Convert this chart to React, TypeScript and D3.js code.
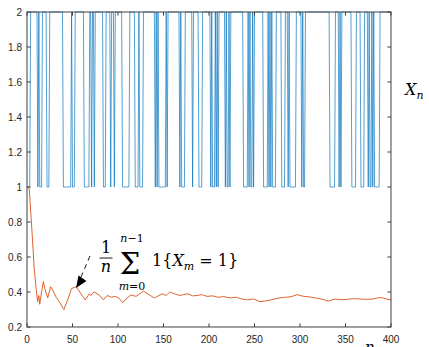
import React from "react";
import * as d3 from "d3";

// Markov chain X_n as runs of [value, length], n = 0..400
const blueRuns: [number, number][] = [
  [1,4],[2,8],[1,1],[2,1],[1,3],[2,5],[1,3],[2,15],[1,9],[2,1],[1,3],[2,10],
  [1,6],[2,2],[1,1],[2,2],[1,1],[2,9],[1,3],[2,5],[1,1],[2,3],[1,1],[2,8],
  [1,8],[2,6],[1,4],[2,1],[1,4],[2,13],[1,1],[2,1],[1,1],[2,1],[1,8],[2,1],
  [1,1],[2,13],[1,1],[2,1],[1,4],[2,8],[1,1],[2,6],[1,4],[2,9],[1,1],[2,1],
  [1,3],[2,1],[1,1],[2,1],[1,1],[2,7],[1,1],[2,1],[1,2],[2,1],[1,1],[2,14],
  [1,5],[2,1],[1,1],[2,1],[1,2],[2,1],[1,1],[2,10],[1,5],[2,1],[1,1],[2,1],
  [1,1],[2,1],[1,4],[2,6],[1,4],[2,3],[1,1],[2,1],[1,7],[2,6],[1,1],[2,1],
  [1,2],[2,27],[1,6],[2,4],[1,1],[2,1],[1,1],[2,11],[1,5],[2,5],[1,4],[2,4],
  [1,1],[2,1],[1,2],[2,1],[1,1],[2,1],[1,6],[2,13]
];

// running average of 1{X_m = 1}
const avgN = [1, 2.5, 5.8, 8, 10.6, 11.7, 13, 14, 16, 18, 19.5, 22.7, 26, 28, 32, 36, 40.5,
  45, 49, 54, 58, 64, 68.5, 70, 73.6, 77, 80, 84, 88, 93, 97, 101, 105, 110, 114, 120, 124, 128,
  134, 140, 145, 149, 153, 157, 162, 168, 172, 177, 182, 187, 192, 198, 204, 210, 216, 223, 230,
  236, 242, 249, 256, 261, 267, 272, 278, 284, 289, 293, 297, 303, 310, 318, 325, 331, 335, 339,
  345, 352, 358, 366, 373, 380, 385, 390, 395, 400];
const avgV = [1.0, 0.99, 0.72, 0.53, 0.39, 0.345, 0.38, 0.33, 0.40, 0.46, 0.42, 0.366, 0.43, 0.415, 0.37, 0.34, 0.30,
  0.36, 0.42, 0.43, 0.40, 0.355, 0.39, 0.38, 0.40, 0.39, 0.38, 0.355, 0.38, 0.37, 0.375, 0.365, 0.34, 0.365, 0.383, 0.375, 0.39, 0.405,
  0.385, 0.366, 0.38, 0.389, 0.38, 0.40, 0.39, 0.38, 0.385, 0.39, 0.378, 0.38, 0.385, 0.375, 0.378, 0.37, 0.374, 0.366, 0.37,
  0.36, 0.355, 0.36, 0.345, 0.348, 0.354, 0.36, 0.367, 0.37, 0.372, 0.378, 0.385, 0.376, 0.372, 0.365, 0.358, 0.348, 0.355, 0.36,
  0.356, 0.358, 0.362, 0.36, 0.358, 0.36, 0.366, 0.368, 0.36, 0.355];

const xTicks = [0, 50, 100, 150, 200, 250, 300, 350, 400];
const yTicks = [0.2, 0.4, 0.6, 0.8, 1, 1.2, 1.4, 1.6, 1.8, 2];

export default function App() {
  const W = 429, H = 347;
  const x = d3.scaleLinear().domain([0, 400]).range([27, 391]);
  const y = d3.scaleLinear().domain([0.2, 2]).range([327, 12]);

  const blue: [number, number][] = [];
  let n = 0;
  for (const [v, len] of blueRuns) {
    for (let k = 0; k < len; k++) { blue.push([n, v]); n++; }
  }
  const line = d3.line<[number, number]>().x(d => x(d[0])).y(d => y(d[1]));
  const orange: [number, number][] = avgN.map((t, i) => [t, avgV[i]]);

  const axisColor = "#404040";
  const tickLen = 3.6;
  const tickFont = "'Liberation Sans', Arial, sans-serif";
  const math = "'DejaVu Serif', 'Liberation Serif', serif";

  return (
    <svg width={W} height={H} style={{ position: "absolute", left: 0, top: 0, background: "#fff" }}>
      <path d={line(blue) || ""} fill="none" stroke="#0072BD" strokeWidth={0.9} strokeOpacity={0.75} />
      <path d={line(orange) || ""} fill="none" stroke="#D95319" strokeWidth={1} strokeOpacity={0.9} />

      {/* box */}
      <rect x={27} y={12} width={364} height={315} fill="none" stroke={axisColor} strokeWidth={1} />
      {xTicks.map(t => (
        <g key={"x" + t}>
          <line x1={x(t)} x2={x(t)} y1={327} y2={327 - tickLen} stroke={axisColor} />
          <line x1={x(t)} x2={x(t)} y1={12} y2={12 + tickLen} stroke={axisColor} />
          <text x={x(t)} y={343} textAnchor="middle" fontSize={10} fontFamily={tickFont} fill="#262626">{t}</text>
        </g>
      ))}
      {yTicks.map(t => (
        <g key={"y" + t}>
          <line x1={27} x2={27 + tickLen} y1={y(t)} y2={y(t)} stroke={axisColor} />
          <line x1={391} x2={391 - tickLen} y1={y(t)} y2={y(t)} stroke={axisColor} />
          <text x={22} y={y(t) + 3.5} textAnchor="end" fontSize={10} fontFamily={tickFont} fill="#262626">{String(t)}</text>
        </g>
      ))}

      {/* X_n label */}
      <text x={405} y={95} fontFamily={math} fontSize={16} fontStyle="italic" fill="#000">
        X<tspan fontSize={11} dy={4}>n</tspan>
      </text>
      {/* n x-label (cut by the bottom edge, as in the reference) */}
      <text x={365} y={352} fontFamily={math} fontSize={15} fontStyle="italic" fill="#000">n</text>

      {/* annotation formula */}
      <g fontFamily={math} fill="#000">
        <text x={106} y={253} textAnchor="middle" fontSize={16}>1</text>
        <line x1={99.5} x2={112.5} y1={258} y2={258} stroke="#000" strokeWidth={0.9} />
        <text x={106} y={272} textAnchor="middle" fontSize={16} fontStyle="italic">n</text>
        <text x={130} y={274} textAnchor="middle" fontSize={29}>Σ</text>
        <text x={132} y={242} textAnchor="middle" fontSize={11}><tspan fontStyle="italic">n</tspan>−1</text>
        <text x={132} y={290} textAnchor="middle" fontSize={11}><tspan fontStyle="italic">m</tspan>=0</text>
        <text x={152} y={266} fontSize={16}>
          1{"{"}<tspan fontStyle="italic">X</tspan><tspan fontSize={11} dy={4} fontStyle="italic">m</tspan><tspan dy={-4}> = 1</tspan>{"}"}
        </text>
      </g>
      {/* arrow */}
      <line x1={90} y1={256} x2={81} y2={277} stroke="#000" strokeWidth={0.9} strokeDasharray="5,4" />
      <path d="M76,288 L78.5,275.5 L86.5,281 Z" fill="#000" />
    </svg>
  );
}
